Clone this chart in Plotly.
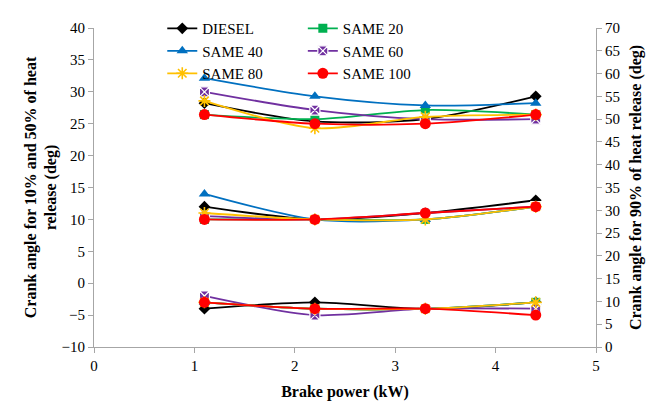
import plotly.graph_objects as go

# Brake power (kW)
power = [1.1, 2.2, 3.3, 4.4]

fuels = ["DIESEL", "SAME 20", "SAME 40", "SAME 60", "SAME 80", "SAME 100"]

# Crank angle at 10% heat release (deg), left axis
ca10_diesel = [-4, -3, -4, -3]
ca10_same20 = [-3, -4, -4, -3]
ca10_same40 = [-3, -4, -4, -3]
ca10_same60 = [-2, -5, -4, -4]
ca10_same80 = [-3, -4, -4, -3]
ca10_same100 = [-3, -4, -4, -5]

# Crank angle at 50% heat release (deg), left axis
ca50_diesel = [12, 10, 11, 13]
ca50_same20 = [10, 10, 10, 12]
ca50_same40 = [14, 10, 10, 12]
ca50_same60 = [10.5, 10, 11, 12]
ca50_same80 = [11, 10, 10, 12]
ca50_same100 = [10, 10, 11, 12]

# Crank angle at 90% heat release (deg), right axis
ca90_diesel = [53.5, 49.5, 50, 55]
ca90_same20 = [51, 50, 52, 51]
ca90_same40 = [59, 55, 53, 53.5]
ca90_same60 = [56, 52, 50, 50]
ca90_same80 = [54, 48, 50.5, 51]
ca90_same100 = [51, 49, 49, 51]

ca10 = [ca10_diesel, ca10_same20, ca10_same40, ca10_same60, ca10_same80, ca10_same100]
ca50 = [ca50_diesel, ca50_same20, ca50_same40, ca50_same60, ca50_same80, ca50_same100]
ca90 = [ca90_diesel, ca90_same20, ca90_same40, ca90_same60, ca90_same80, ca90_same100]

styles = {
    "DIESEL": dict(color="#000000", symbol="diamond", size=9, mline="#000000", mlw=0),
    "SAME 20": dict(color="#00B050", symbol="square", size=9, mline="#00B050", mlw=0),
    "SAME 40": dict(color="#0070C0", symbol="triangle-up", size=10, mline="#0070C0", mlw=0),
    "SAME 60": dict(color="#7030A0", symbol="square-x", size=10, mline="#FFFFFF", mlw=1.2),
    "SAME 80": dict(color="#FFC000", symbol="asterisk-open", size=10, mline="#FFC000", mlw=1.6),
    "SAME 100": dict(color="#FF0000", symbol="circle", size=11, mline="#FF0000", mlw=0),
}
legend_of = {"DIESEL": "legend", "SAME 40": "legend", "SAME 80": "legend",
             "SAME 20": "legend2", "SAME 60": "legend2", "SAME 100": "legend2"}

FONT = "Liberation Serif"
fig = go.Figure()

for i, name in enumerate(fuels):
    st = styles[name]
    groups = [(ca10[i], "y", True), (ca50[i], "y", False), (ca90[i], "y2", False)]
    for vals, yax, show in groups:
        fig.add_trace(go.Scatter(
            x=power, y=vals, yaxis=yax, name=name, legendgroup=name,
            showlegend=show, legend=legend_of[name],
            mode="lines+markers",
            line=dict(color=st["color"], width=1.8, shape="spline", smoothing=0.8),
            marker=dict(symbol=st["symbol"], size=st["size"], color=st["color"],
                        line=dict(color=st["mline"], width=st["mlw"])),
            hoverinfo="skip",
        ))

axis_common = dict(
    showline=True, linecolor="#A6A6A6", linewidth=1,
    ticks="outside", ticklen=5, tickcolor="#A6A6A6", tickwidth=1,
    showgrid=False, zeroline=False,
    tickfont=dict(family=FONT, size=15, color="#000000"),
)

fig.update_layout(
    width=667, height=409,
    margin=dict(l=94, r=71, t=19, b=57),
    paper_bgcolor="white", plot_bgcolor="white",
    font=dict(family=FONT, size=15, color="#000000"),
    xaxis=dict(range=[0, 5], dtick=1, tick0=0, **axis_common,
               title=dict(text="<b>Brake power (kW)</b>", standoff=12,
                          font=dict(family=FONT, size=16, color="#000000"))),
    yaxis=dict(range=[-10, 40], dtick=5, tick0=0, **axis_common,
               title=dict(text="<b>Crank angle for 10% and 50% of heat<br>release (deg)</b>",
                          standoff=0, font=dict(family=FONT, size=16, color="#000000"))),
    yaxis2=dict(range=[0, 70], dtick=5, tick0=0, overlaying="y", side="right", **axis_common,
                title=dict(text="<b>Crank angle for 90% of heat release (deg)</b>",
                           standoff=10, font=dict(family=FONT, size=16, color="#000000"))),
    legend=dict(x=0.136, y=1.05, xanchor="left", yanchor="top", orientation="v",
                bgcolor="rgba(0,0,0,0)", tracegroupgap=0, itemwidth=30,
                font=dict(family=FONT, size=15, color="#000000")),
    legend2=dict(x=0.416, y=1.05, xanchor="left", yanchor="top", orientation="v",
                 bgcolor="rgba(0,0,0,0)", tracegroupgap=0, itemwidth=30,
                 font=dict(family=FONT, size=15, color="#000000")),
    showlegend=True,
)

fig.write_html("out.html")
